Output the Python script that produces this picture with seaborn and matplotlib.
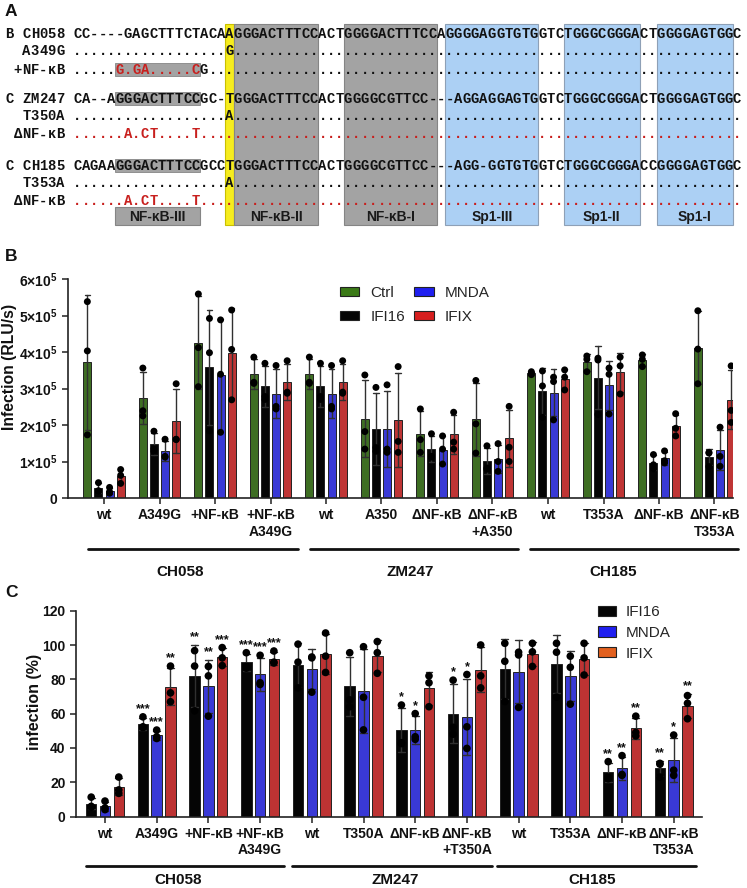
import numpy as np
import pandas as pd
import matplotlib
matplotlib.use("Agg")
import matplotlib.pyplot as plt
import seaborn as sns
from matplotlib.patches import Rectangle, Patch
from matplotlib.transforms import blended_transform_factory

# ------------------------------------------------------------------ data
# Panel A: aligned LTR sequences
seq_labels = ["B CH058", "A349G", "+NF-κB", "C ZM247", "T350A", "ΔNF-κB",
              "C CH185", "T353A", "ΔNF-κB"]
seq_rows = [
    "CC----GAGCTTTCTACAAGGGACTTTCCACTGGGGACTTTCCAGGGGAGGTGTGGTCTGGGCGGGACTGGGGAGTGGC",
    ".................." + "G" + "." * 60,
    "....." + "G.GA.....C" + "G" + "." * 63,
    "CA--AGGGACTTTCCGC-TGGGACTTTCCACTGGGGCGTTCC---AGGAGGAGTGGTCTGGGCGGGACTGGGGAGTGGC",
    ".................." + "A" + "." * 60,
    "......A.CT....T" + "." * 64,
    "CAGAAGGGACTTTCCGCCTGGGACTTTCCACTGGGGCGTTCC---AGG-GGTGTGGTCTGGGCGGGACCGGGGAGTGGC",
    ".................." + "A" + "." * 60,
    "......A.CT....T" + "." * 64,
]
# red character ranges per row (start, end)
seq_red = {2: (5, 15), 5: (0, 79), 8: (0, 79)}
# highlighted NF-kB-III sites (row, start, end)
site_highlights = [(2, 5, 15), (3, 5, 15), (6, 5, 15)]
# element boxes: name, start, end, kind
elements = [("", 18, 19, "y"), ("NF-κB-II", 19, 29, "g"), ("NF-κB-I", 32, 43, "g"),
            ("Sp1-III", 44, 55, "b"), ("Sp1-II", 58, 67, "b"), ("Sp1-I", 69, 78, "b")]
nfkb3_box = ("NF-κB-III", 5, 15)

# Panel B: infection (RLU/s, x1e5), three replicates per bar
b_hues = ["Ctrl", "IFI16", "MNDA", "IFIX"]
b_ticklabels = ["wt", "A349G", "+NF-κB", "+NF-κB\nA349G", "wt", "A350", "ΔNF-κB",
                "ΔNF-κB\n+A350", "wt", "T353A", "ΔNF-κB", "ΔNF-κB\nT353A"]
b_ctrl = [[5.38, 4.03, 1.73], [3.56, 2.39, 2.25], [5.59, 4.12, 3.05], [3.86, 3.17, 3.14],
          [3.86, 3.17, 3.14], [3.37, 1.82, 1.34], [2.44, 1.60, 1.25], [3.22, 2.03, 1.23],
          [3.46, 3.42, 3.38], [3.89, 3.80, 3.46], [3.92, 3.80, 3.60], [5.13, 4.08, 3.13]]
b_ifi16 = [[0.42, 0.20, 0.18], [1.83, 1.35, 1.28], [4.92, 3.98, 1.84], [3.69, 2.78, 2.70],
           [3.69, 2.78, 2.70], [3.03, 1.38, 1.28], [1.76, 1.14, 1.12], [1.43, 0.82, 0.79],
           [3.48, 3.07, 2.21], [3.83, 3.78, 2.29], [1.19, 0.91, 0.80], [1.25, 1.23, 0.86]]
b_mnda = [[0.29, 0.17, 0.13], [1.61, 1.14, 1.12], [4.88, 3.39, 1.80], [3.63, 2.51, 2.44],
          [3.63, 2.51, 2.44], [3.10, 1.34, 1.25], [1.70, 1.34, 0.93], [1.49, 1.00, 0.73],
          [3.31, 3.19, 2.14], [3.56, 3.39, 2.30], [1.29, 1.02, 0.96], [1.94, 1.14, 0.87]]
b_ifix = [[0.78, 0.62, 0.40], [3.13, 1.61, 1.60], [5.15, 4.07, 2.69], [3.76, 2.90, 2.87],
          [3.76, 2.90, 2.87], [3.60, 1.55, 1.25], [2.35, 1.53, 1.34], [2.51, 1.39, 1.00],
          [3.51, 3.31, 2.96], [3.86, 3.62, 2.85], [2.31, 1.91, 1.70], [3.62, 2.40, 2.07]]
b_yticks = [0, 1e5, 2e5, 3e5, 4e5, 5e5, 6e5]
b_yticklabels = ["0", r"$1{\times}10^5$", r"$2{\times}10^5$", r"$3{\times}10^5$",
                 r"$4{\times}10^5$", r"$5{\times}10^5$", r"$6{\times}10^5$"]

# Panel C: infection (%) relative to control
c_hues = ["IFI16", "MNDA", "IFIX"]
c_ticklabels = ["wt", "A349G", "+NF-κB", "+NF-κB\nA349G", "wt", "T350A", "ΔNF-κB",
                "ΔNF-κB\n+T350A", "wt", "T353A", "ΔNF-κB", "ΔNF-κB\nT353A"]
c_ifi16 = [[11.3, 5.9, 5.5], [58.1, 52.3, 51.9], [96.7, 87.7, 61.6], [95.5, 87.5, 86.5],
           [100.5, 90, 75], [95.5, 68, 64], [65, 43, 42.5], [79.5, 52, 48],
           [101, 90.5, 67], [101, 95.8, 69.6], [32, 23, 22], [31, 30.5, 23]]
c_mnda = [[9, 5, 4], [50.4, 46.5, 45.5], [87.5, 82, 58.5], [94, 78, 77],
          [93, 92.5, 72.5], [99, 69.5, 50.5], [60, 46.5, 45], [82.8, 52.3, 39.7],
          [95.8, 94.2, 63.6], [93.5, 87, 65.5], [35.5, 24.5, 24], [47.5, 27, 24]]
c_ifix = [[23, 15.5, 13.5], [87.7, 72.1, 66.9], [98.5, 92.5, 88], [96.5, 90, 89.5],
          [107, 93.5, 84], [102, 95.5, 83.5], [82, 78, 64], [100, 82, 75],
          [101, 96, 87.5], [101, 92.5, 82.5], [58.5, 49, 47], [70.5, 66, 57]]
c_stars_ifi16 = ["", "***", "**", "***", "", "", "*", "*", "", "", "**", "**"]
c_stars_mnda = ["", "***", "**", "***", "", "", "*", "*", "", "", "**", "*"]
c_stars_ifix = ["", "**", "***", "***", "", "", "", "", "", "", "**", "**"]
c_yticks = [0, 20, 40, 60, 80, 100, 120]

strains = ["CH058", "ZM247", "CH185"]

# ------------------------------------------------------------------ style
sns.set_theme(style="ticks")
plt.rcParams["font.family"] = ["Liberation Sans", "DejaVu Sans"]
plt.rcParams["mathtext.fontset"] = "custom"
plt.rcParams["mathtext.rm"] = "Liberation Sans:bold"
plt.rcParams["mathtext.it"] = "Liberation Sans:bold"
plt.rcParams["mathtext.bf"] = "Liberation Sans:bold"
MONO = ["Liberation Mono", "DejaVu Sans Mono"]
SANS = ["Liberation Sans", "DejaVu Sans"]

W, H = 747, 888
fig = plt.figure(figsize=(W / 100, H / 100), dpi=100)

# ------------------------------------------------------------------ panel A
axa = fig.add_axes([0, 0, 1, 1])
axa.set_xlim(0, W)
axa.set_ylim(H, 0)
axa.axis("off")

x0, cw = 73.0, 8.46
baselines = [38, 55, 74, 103, 120.5, 138.5, 170, 187, 204.5]
row_h = 12.5
col_top, col_bot = 24, 225
RED = "#c8201e"
GRAY, GRAY_E = "#a3a3a3", "#858585"
BLUE, BLUE_E = "#acd0f4", "#8ea0b6"
YEL = "#f6ec1e"


def cx(i):
    return x0 + i * cw


for name, s, e, kind in elements:
    fc = {"y": YEL, "g": GRAY, "b": BLUE}[kind]
    ec = {"y": "#c9c000", "g": GRAY_E, "b": BLUE_E}[kind]
    axa.add_patch(Rectangle((cx(s), col_top), cx(e) - cx(s), col_bot - col_top,
                            facecolor=fc, edgecolor=ec, lw=0.8, zorder=1))
    if name:
        axa.text((cx(s) + cx(e)) / 2, 216.5, name, ha="center", va="center",
                 fontsize=10, fontweight="bold", color="#1a1a1a", family=SANS, zorder=5)
name3, s3, e3 = nfkb3_box
axa.add_patch(Rectangle((cx(s3), 207), cx(e3) - cx(s3), 18, facecolor=GRAY,
                        edgecolor=GRAY_E, lw=0.8, zorder=1))
axa.text((cx(s3) + cx(e3)) / 2, 216.5, name3, ha="center", va="center", fontsize=10,
         fontweight="bold", color="#1a1a1a", family=SANS, zorder=5)
for r, s, e in site_highlights:
    b = baselines[r]
    axa.add_patch(Rectangle((cx(s), b - 10.5), cx(e) - cx(s), row_h + 0.5,
                            facecolor=GRAY, edgecolor=GRAY_E, lw=0.6, zorder=1))

for r, (lab, seq) in enumerate(zip(seq_labels, seq_rows)):
    b = baselines[r]
    n = len(lab)
    for k, ch in enumerate(lab):
        if ch != " ":
            axa.text(cx(-1 - n + k) + cw / 2, b, ch, ha="center", va="baseline",
                     fontsize=10, fontweight="bold", family=MONO, color="#111111", zorder=6)
    rs, re_ = seq_red.get(r, (0, 0))
    for i, ch in enumerate(seq):
        col = RED if rs <= i < re_ else "#111111"
        axa.text(cx(i) + cw / 2, b, ch, ha="center", va="baseline", fontsize=10,
                 fontweight="bold", family=MONO, color=col, zorder=6)

for lab, y in [("A", 12), ("B", 256), ("C", 592)]:
    axa.text(5, y, lab, ha="left", va="center", fontsize=12.5, fontweight="bold",
             family=SANS, color="#111111")

# ------------------------------------------------------------------ panel B
b_keys = [f"b{i}" for i in range(12)]
rows = []
for hue, vals in zip(b_hues, [b_ctrl, b_ifi16, b_mnda, b_ifix]):
    for key, trip in zip(b_keys, vals):
        for v in trip:
            rows.append((key, hue, v * 1e5))
dfb = pd.DataFrame(rows, columns=["cond", "cell", "rlu"])
b_colors = {"Ctrl": "#3b7a17", "IFI16": "#050505", "MNDA": "#1f1ff0", "IFIX": "#d61e1e"}

axb = fig.add_axes([68 / W, 1 - 498 / H, (733 - 68) / W, (498 - 279) / H])
axb.set_facecolor("none")
sns.barplot(data=dfb, x="cond", y="rlu", hue="cell", order=b_keys, hue_order=b_hues,
            palette=b_colors, errorbar="sd", capsize=0.4, width=0.8, gap=0.28,
            err_kws={"linewidth": 1.0, "color": "#303030"}, edgecolor="#222222",
            linewidth=0.7, legend=False, ax=axb)
sns.stripplot(data=dfb, x="cond", y="rlu", hue="cell", order=b_keys, hue_order=b_hues,
              palette={h: "black" for h in b_hues}, dodge=True, jitter=False, size=5,
              legend=False, ax=axb, zorder=5)
axb.set_xlim((68 - 104) / 55.5, (733 - 104) / 55.5)
axb.set_ylim(0, 6e5)
axb.set_yticks(b_yticks)
axb.set_yticklabels(b_yticklabels)
axb.set_xticks(range(12))
axb.set_xticklabels(b_ticklabels)
for t in axb.get_xticklabels() + axb.get_yticklabels():
    t.set_fontweight("bold")
    t.set_fontsize(10)
    t.set_color("#111111")
axb.tick_params(axis="both", length=4.5, width=1.1, color="#222222", pad=3)
axb.set_xlabel("")
axb.set_ylabel("Infection (RLU/s)", fontsize=11.3, fontweight="bold", color="#111111")
axb.yaxis.set_label_coords((17 - 68) / 665, 0.6)
sns.despine(ax=axb)
for sp in ["left", "bottom"]:
    axb.spines[sp].set_linewidth(1.2)
    axb.spines[sp].set_color("#222222")
hb = [Patch(facecolor=b_colors[h], edgecolor="#222222", linewidth=0.8) for h in b_hues]
fig.legend(hb, b_hues, ncol=2, loc="upper left", bbox_to_anchor=(340 / W, 1 - 286 / H),
           frameon=False, fontsize=11, handlelength=1.25, handleheight=0.6,
           handletextpad=0.75, columnspacing=0.6, labelspacing=0.65, borderpad=0,
           borderaxespad=0)
trb = blended_transform_factory(axb.transData, axb.transAxes)
b_lines = [(-0.29, 3.5), (3.71, 7.46), (7.68, 11.42)]
b_name_x = [1.37, 5.51, 9.17]
for (a, c), nx, st in zip(b_lines, b_name_x, strains):
    axb.plot([a, c], [-0.233, -0.233], color="#111111", lw=2, transform=trb, clip_on=False)
    axb.text(nx, -0.338, st, ha="center", va="center", fontsize=11, fontweight="bold",
             transform=trb, color="#111111")

# ------------------------------------------------------------------ panel C
c_keys = [f"c{i}" for i in range(12)]
rows = []
for hue, vals in zip(c_hues, [c_ifi16, c_mnda, c_ifix]):
    for key, trip in zip(c_keys, vals):
        for v in trip:
            rows.append((key, hue, v))
dfc = pd.DataFrame(rows, columns=["cond", "cell", "pct"])
c_colors = {"IFI16": "#050505", "MNDA": "#1f1ff0", "IFIX": "#d41c1c"}

axc = fig.add_axes([76 / W, 1 - 816.5 / H, (702 - 76) / W, (816.5 - 610.7) / H])
axc.set_facecolor("none")
sns.barplot(data=dfc, x="cond", y="pct", hue="cell", order=c_keys, hue_order=c_hues,
            palette=c_colors, errorbar="sd", capsize=0.4, width=0.8, gap=0.24,
            err_kws={"linewidth": 1.0, "color": "#303030"}, edgecolor="#222222",
            linewidth=0.7, legend=False, ax=axc)
sns.stripplot(data=dfc, x="cond", y="pct", hue="cell", order=c_keys, hue_order=c_hues,
              palette={h: "black" for h in c_hues}, dodge=True, jitter=False, size=5.5,
              legend=False, ax=axc, zorder=5)
axc.set_xlim((76 - 105) / 51.7, (702 - 105) / 51.7)
axc.set_ylim(0, 120)
axc.set_yticks(c_yticks)
axc.set_xticks(range(12))
axc.set_xticklabels(c_ticklabels)
for t in axc.get_xticklabels() + axc.get_yticklabels():
    t.set_fontweight("bold")
    t.set_fontsize(10)
    t.set_color("#111111")
axc.tick_params(axis="both", length=4.5, width=1.1, color="#222222", pad=3)
axc.set_xlabel("")
axc.set_ylabel("infection (%)", fontsize=11.5, fontweight="bold", color="#111111")
axc.yaxis.set_label_coords((42 - 76) / 626, 0.556)
sns.despine(ax=axc)
for sp in ["left", "bottom"]:
    axc.spines[sp].set_linewidth(1.2)
    axc.spines[sp].set_color("#222222")

# significance stars
grp = dfc.groupby(["cond", "cell"])["pct"]
tops = (grp.mean() + grp.std()).combine(grp.max(), max)
slot = 0.8 / 3
for hi, (hue, stars) in enumerate(zip(c_hues, [c_stars_ifi16, c_stars_mnda, c_stars_ifix])):
    for gi, st in enumerate(stars):
        if st:
            y = tops[(c_keys[gi], hue)]
            axc.text(gi + (hi - 1) * slot, y + 1.0, st, ha="center", va="bottom",
                     fontsize=9, fontweight="bold", color="#111111")

c_leg_colors = ["#050505", "#1f1ff0", "#e2601e"]
hc = [Patch(facecolor=c, edgecolor="#222222", linewidth=0.8) for c in c_leg_colors]
fig.legend(hc, c_hues, ncol=1, loc="upper left", bbox_to_anchor=(598 / W, 1 - 605 / H),
           frameon=False, fontsize=11, handlelength=1.15, handleheight=0.65,
           handletextpad=0.65, labelspacing=0.45, borderpad=0, borderaxespad=0)
trc = blended_transform_factory(axc.transData, axc.transAxes)
c_lines = [(-0.37, 3.46), (3.62, 7.49), (7.58, 11.43)]
c_name_x = [1.41, 5.61, 9.42]
for (a, c), nx, st in zip(c_lines, c_name_x, strains):
    axc.plot([a, c], [-0.2405, -0.2405], color="#111111", lw=2, transform=trc, clip_on=False)
    axc.text(nx, -0.3085, st, ha="center", va="center", fontsize=11, fontweight="bold",
             transform=trc, color="#111111")

fig.savefig("out.png", dpi=100)
